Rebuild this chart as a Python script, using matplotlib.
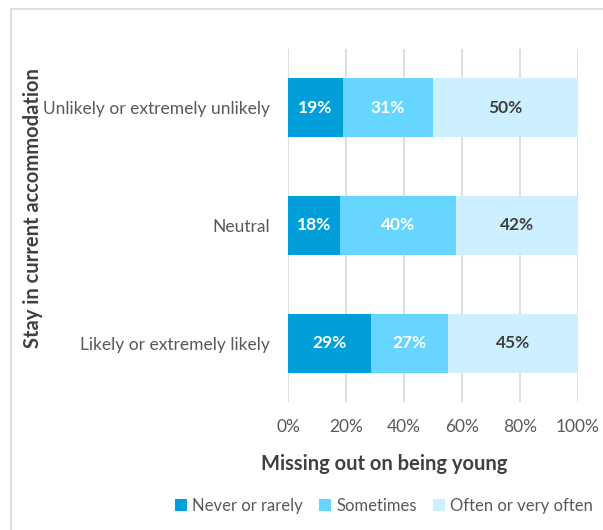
import matplotlib.pyplot as plt
from matplotlib.lines import Line2D

categories = ['Likely or extremely likely', 'Neutral', 'Unlikely or extremely unlikely']
never = [28.6, 18, 19]
sometimes = [26.6, 40, 31]
often = [44.8, 42, 50]
series_names = ['Never or rarely', 'Sometimes', 'Often or very often']
xticks = [0, 20, 40, 60, 80, 100]

COLOURS = ['#009FDA', '#66D5FF', '#CCF0FF']
TEXTCOL = ['white', 'white', '#404040']
GREY = '#595959'

plt.rcParams['font.family'] = ['Lato', 'DejaVu Sans']

fig = plt.figure(figsize=(6.03, 5.3), dpi=100)
ax = fig.add_axes([288 / 603, 1 - 402 / 530, 290 / 603, 353 / 530])

# light frame around the chart
fig.add_artist(Line2D([11 / 603, 11 / 603], [0, 1 - 9 / 530], color='#D9D9D9', lw=1.2))
fig.add_artist(Line2D([11 / 603, 1], [1 - 9 / 530, 1 - 9 / 530], color='#D9D9D9', lw=1.2))

y = range(len(categories))
left = [0] * len(categories)
for vals, name, col, tcol in zip([never, sometimes, often], series_names, COLOURS, TEXTCOL):
    bars = ax.barh(y, vals, left=left, height=0.5, color=col, label=name, zorder=3)
    for b, v in zip(bars, vals):
        ax.text(b.get_x() + b.get_width() / 2, b.get_y() + b.get_height() / 2,
                '%d%%' % round(v), ha='center', va='center', color=tcol,
                fontsize=12.5, fontweight='bold', zorder=4)
    left = [l + v for l, v in zip(left, vals)]

ax.set_xlim(0, 100)
ax.set_ylim(-0.5, 2.5)
ax.set_xticks(xticks)
ax.set_xticklabels(['%d%%' % t for t in xticks], color=GREY, fontsize=12.5)
ax.set_yticks(list(y))
ax.set_yticklabels(categories, color=GREY, fontsize=12.5)
ax.tick_params(length=0)
ax.tick_params(axis='y', pad=13)
ax.tick_params(axis='x', pad=12)
ax.xaxis.grid(True, color='#D9D9D9', lw=1.2, zorder=0)
for s in ax.spines.values():
    s.set_visible(False)

fig.text(384 / 603, 1 - 464 / 530, 'Missing out on being young', ha='center', va='center',
         fontsize=14.5, fontweight='bold', color='#404040')
fig.text(33 / 603, 1 - 208 / 530, 'Stay in current accommodation', rotation=90,
         ha='center', va='center', fontsize=14.5, fontweight='bold', color='#404040')

fig.legend(loc='center', bbox_to_anchor=(384 / 603, 1 - 506 / 530), ncol=3, frameon=False,
           fontsize=12, handlelength=0.7, handleheight=0.7, handletextpad=0.3,
           columnspacing=1.0, labelcolor=GREY)

fig.savefig('out.png', dpi=100, facecolor='white')
